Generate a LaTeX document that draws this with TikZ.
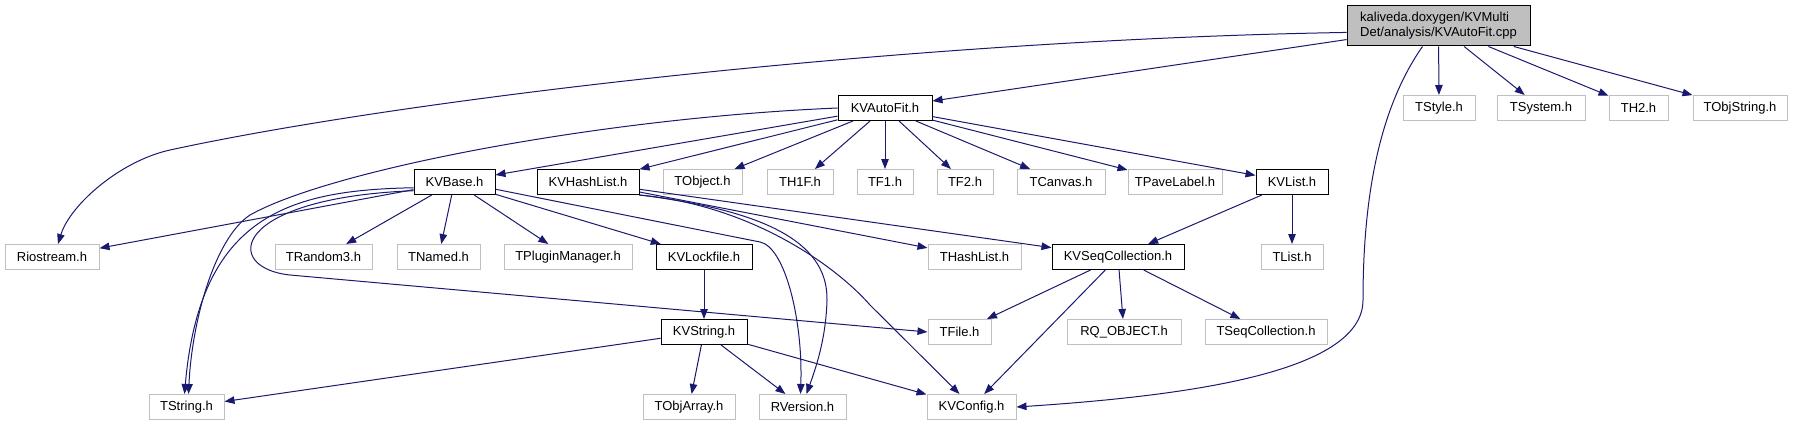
\documentclass[tikz,border=0pt]{standalone}
\usepackage{fontspec}
\setmainfont{Liberation Sans}
\usetikzlibrary{arrows.meta}
\definecolor{edgeblue}{HTML}{191970}
\definecolor{boxgray}{HTML}{BFBFBF}

\begin{document}
\begin{tikzpicture}[x=1pt, y=-1pt,
    font=\fontsize{13}{15}\selectfont,
    hdr/.style={draw=boxgray, fill=white, line width=1pt, minimum height=25pt, inner sep=0pt},
    kvhdr/.style={hdr, draw=black},
    dep/.style={draw=edgeblue, line width=1pt, -{Triangle[length=10pt,width=7.5pt]}}]
    \useasboundingbox (0,0) rectangle (1793,425);

    % Draw nodes
    \node[kvhdr, fill=boxgray, minimum width=183pt, minimum height=40pt, align=left] (root) at (1438.5,26) {kaliveda.doxygen/KVMulti\\Det/analysis/KVAutoFit.cpp};
    \node[hdr, minimum width=72pt] (tstyle) at (1439,108) {TStyle.h};
    \node[hdr, minimum width=88pt] (tsystem) at (1541,108) {TSystem.h};
    \node[hdr, minimum width=59pt] (thtwo) at (1638.5,108) {TH2.h};
    \node[hdr, minimum width=94pt] (tobjstring) at (1740,108) {TObjString.h};
    \node[kvhdr, minimum width=94pt] (kvautofit) at (885,108) {KVAutoFit.h};

    \node[kvhdr, minimum width=81pt] (kvbase) at (454.5,182) {KVBase.h};
    \node[kvhdr, minimum width=102pt] (kvhashlist) at (588,182) {KVHashList.h};
    \node[hdr, minimum width=79pt] (tobject) at (702.5,182) {TObject.h};
    \node[hdr, minimum width=66pt] (thonef) at (800,182) {TH1F.h};
    \node[hdr, minimum width=56pt] (tfone) at (885,182) {TF1.h};
    \node[hdr, minimum width=56pt] (tftwo) at (965,182) {TF2.h};
    \node[hdr, minimum width=88pt] (tcanvas) at (1061,182) {TCanvas.h};
    \node[hdr, minimum width=94pt] (tpavelabel) at (1175,182) {TPaveLabel.h};
    \node[kvhdr, minimum width=72pt] (kvlist) at (1292,182) {KVList.h};

    \node[hdr, minimum width=94pt] (riostream) at (52,257) {Riostream.h};
    \node[hdr, minimum width=97pt] (trandom) at (323.5,257) {TRandom3.h};
    \node[hdr, minimum width=83pt] (tnamed) at (438.5,257) {TNamed.h};
    \node[hdr, minimum width=128pt] (tpluginmanager) at (568,257) {TPluginManager.h};
    \node[kvhdr, minimum width=96pt] (kvlockfile) at (704,257) {KVLockfile.h};
    \node[hdr, minimum width=93pt] (thashlist) at (974.5,257) {THashList.h};
    \node[kvhdr, minimum width=132pt] (kvseqcollection) at (1118,257) {KVSeqCollection.h};
    \node[hdr, minimum width=62pt] (tlist) at (1292,257) {TList.h};

    \node[kvhdr, minimum width=86pt] (kvstring) at (704,332) {KVString.h};
    \node[hdr, minimum width=63pt] (tfile) at (959.5,332) {TFile.h};
    \node[hdr, minimum width=114pt] (rqobject) at (1124,332) {RQ\_OBJECT.h};
    \node[hdr, minimum width=122pt] (tseqcollection) at (1266,332) {TSeqCollection.h};

    \node[hdr, minimum width=75pt] (tstring) at (186.5,407) {TString.h};
    \node[hdr, minimum width=92pt] (tobjarray) at (689,407) {TObjArray.h};
    \node[hdr, minimum width=87pt] (rversion) at (802.5,407) {RVersion.h};
    \node[hdr, minimum width=89pt] (kvconfig) at (971.5,407) {KVConfig.h};

    % Draw connections
    \draw[dep] (root.184) .. controls (900,40) and (400,100) .. (170,150) .. controls (120,161) and (70,205) .. ([xshift=6pt]riostream.north);
    \draw[dep] (root) -- (kvautofit);
    \draw[dep] ([xshift=-16pt]root.south) .. controls (1385,100) and (1363,180) .. (1363,300) .. controls (1363,370) and (1200,395) .. (kvconfig.east);
    \draw[dep] (root) -- (tstyle);
    \draw[dep] (root) -- (tsystem);
    \draw[dep] (root) -- (thtwo);
    \draw[dep] (root) -- (tobjstring);

    \draw[dep] (kvautofit.west) .. controls (600,118) and (330,170) .. (250,215) .. controls (215,238) and (192,320) .. ([xshift=2pt]tstring.north);
    \draw[dep] (kvautofit) -- (kvbase);
    \draw[dep] (kvautofit) -- (kvhashlist);
    \draw[dep] (kvautofit) -- (tobject);
    \draw[dep] (kvautofit) -- (thonef);
    \draw[dep] (kvautofit) -- (tfone);
    \draw[dep] (kvautofit) -- (tftwo);
    \draw[dep] (kvautofit) -- (tcanvas);
    \draw[dep] (kvautofit) -- (tpavelabel);
    \draw[dep] (kvautofit) -- (kvlist);

    \draw[dep] (kvbase) -- (riostream);
    \draw[dep] (kvbase.188) .. controls (290,190) and (200,215) .. ([xshift=-2pt]tstring.north);
    \draw[dep] (kvbase.192) .. controls (230,198) and (222,268) .. (290,275) -- (tfile.west);
    \draw[dep] (kvbase) -- (trandom);
    \draw[dep] (kvbase) -- (tnamed);
    \draw[dep] (kvbase) -- (tpluginmanager);
    \draw[dep] (kvbase) -- (kvlockfile);
    \draw[dep] (kvbase.-10) -- (760,242) .. controls (785,247) and (803,320) .. ([xshift=-2pt]rversion.north);

    \draw[dep] (kvhashlist) -- (thashlist);
    \draw[dep] (kvhashlist) -- (kvseqcollection);
    \draw[dep] (kvhashlist.south east) .. controls (760,210) and (828,240) .. (827,300) .. controls (826,340) and (815,370) .. ([xshift=4pt]rversion.north);
    \draw[dep] (kvhashlist.south east) .. controls (750,205) and (835,265) .. (870,305) -- ([xshift=-12pt]kvconfig.north);

    \draw[dep] (kvlist) -- (kvseqcollection);
    \draw[dep] (kvlist) -- (tlist);
    \draw[dep] (kvlockfile) -- (kvstring);

    \draw[dep] (kvseqcollection) -- (tfile);
    \draw[dep] (kvseqcollection) -- (kvconfig);
    \draw[dep] (kvseqcollection) -- (rqobject);
    \draw[dep] (kvseqcollection) -- (tseqcollection);

    \draw[dep] (kvstring) -- (tstring);
    \draw[dep] (kvstring) -- (tobjarray);
    \draw[dep] (kvstring) -- (rversion);
    \draw[dep] (kvstring) -- (kvconfig);
\end{tikzpicture}
\end{document}
